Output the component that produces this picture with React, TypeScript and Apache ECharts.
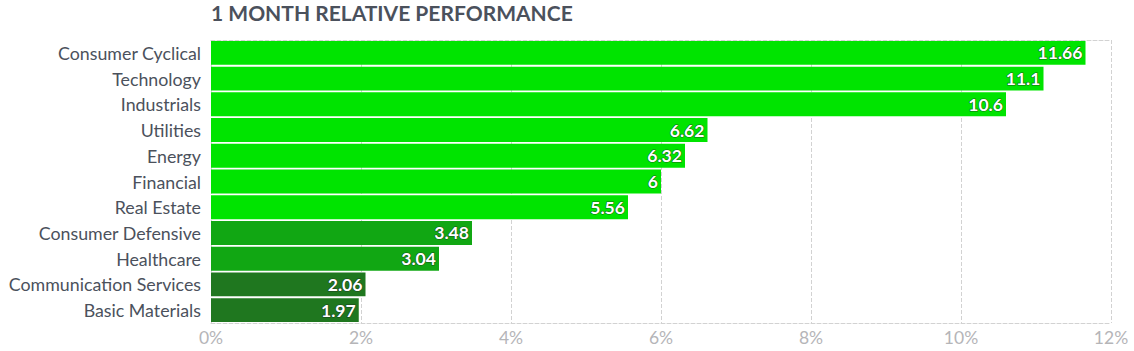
import React, { useEffect, useRef } from "react";
import * as echarts from "echarts";

const categories = [
  "Consumer Cyclical",
  "Technology",
  "Industrials",
  "Utilities",
  "Energy",
  "Financial",
  "Real Estate",
  "Consumer Defensive",
  "Healthcare",
  "Communication Services",
  "Basic Materials",
];
const values = [11.66, 11.1, 10.6, 6.62, 6.32, 6, 5.56, 3.48, 3.04, 2.06, 1.97];
const barColors = [
  "#00E400", "#00E400", "#00E400", "#00E400", "#00E400", "#00E400", "#00E400",
  "#11A713", "#11A713", "#1F771F", "#1F771F",
];
const titleText = "1 MONTH RELATIVE PERFORMANCE";

export default function App() {
  const ref = useRef<HTMLDivElement>(null);
  useEffect(() => {
    document.body.style.margin = "0";
    const chart = echarts.init(ref.current!, null, { renderer: "svg" });
    const grid = "#d2d2d2";
    chart.setOption({
      animation: false,
      title: {
        text: titleText,
        left: 206,
        top: -3,
        textStyle: { fontFamily: "Lato", fontWeight: "bold", fontSize: 21, color: "#4b515c" },
      },
      grid: { left: 211, right: 23, top: 40, bottom: 28, containLabel: false },
      xAxis: [
        {
          type: "value",
          min: 0,
          max: 12,
          interval: 2,
          position: "bottom",
          axisLine: { show: true, lineStyle: { color: grid, type: "dashed" } },
          axisTick: { show: false },
          splitLine: { show: true, lineStyle: { color: grid, type: "dashed" } },
          axisLabel: {
            formatter: "{value}%",
            fontFamily: "Lato",
            fontSize: 17.5,
            color: "#b5b5b8",
            margin: 5,
          },
        },
        {
          type: "value",
          min: 0,
          max: 12,
          interval: 2,
          position: "top",
          axisLine: { show: true, lineStyle: { color: grid, type: "dashed" } },
          axisTick: { show: false },
          axisLabel: { show: false },
          splitLine: { show: false },
        },
      ],
      yAxis: {
        type: "category",
        data: categories,
        inverse: true,
        axisLine: { show: false },
        axisTick: { show: false },
        axisLabel: { fontFamily: "Lato", fontSize: 17.8, color: "#4b515c", margin: 10 },
      },
      series: [
        {
          type: "bar",
          xAxisIndex: 0,
          data: values.map((v, i) => ({ value: v, itemStyle: { color: barColors[i] } })),
          barCategoryGap: "7%",
          label: {
            show: true,
            position: "insideRight",
            distance: 3,
            fontFamily: "Lato",
            fontWeight: "bold",
            fontSize: 17.6,
            color: "#ffffff",
            textBorderColor: "rgba(30,30,30,0.65)",
            textBorderWidth: 1.2,
          },
        },
      ],
    });
    return () => chart.dispose();
  }, []);
  return <div ref={ref} style={{ width: 1134, height: 351 }} />;
}
